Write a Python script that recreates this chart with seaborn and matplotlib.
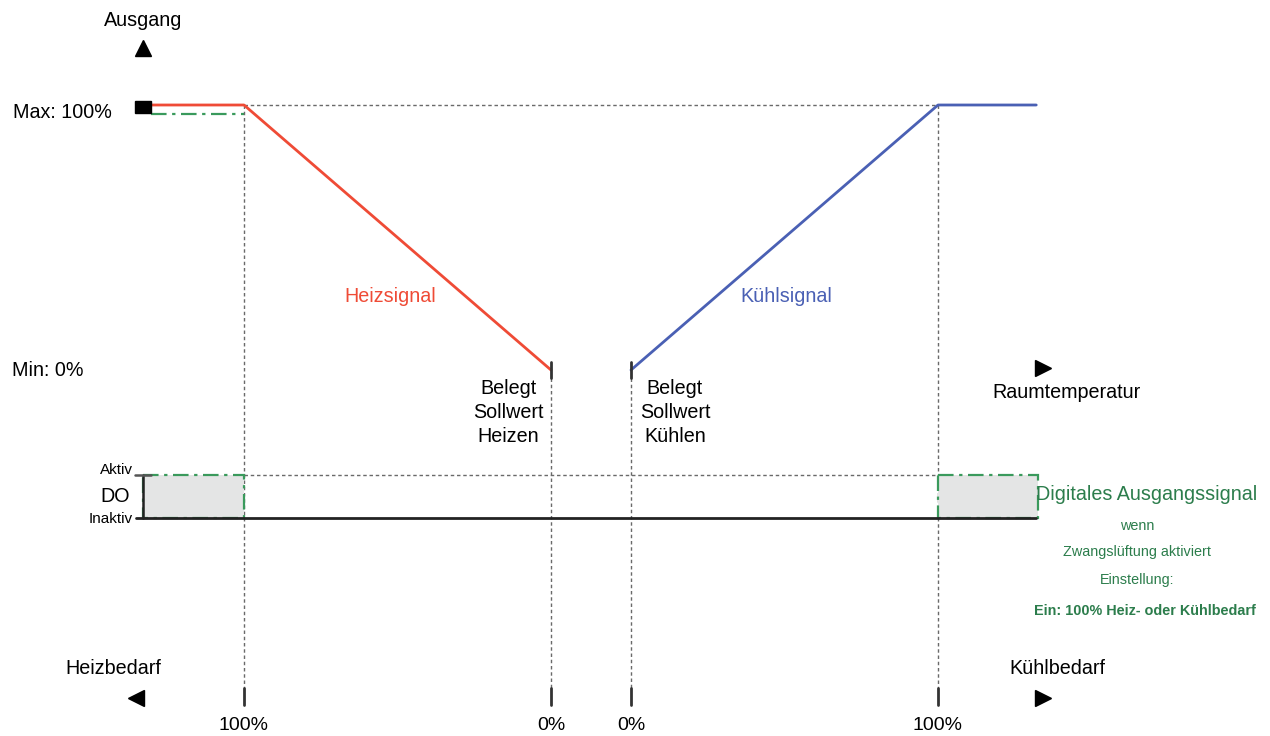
import numpy as np
import pandas as pd
import seaborn as sns
import matplotlib.pyplot as plt
from matplotlib.patches import Rectangle

# ===============================
# DATA (demand % -> output %)
# ===============================
heiz_bedarf  = [130, 100, 0]     # heating demand (%), 130 = saturated lead-in
heiz_ausgang = [100, 100, 0]     # heating output (%)
kuehl_bedarf  = [0, 100, 132]    # cooling demand (%)
kuehl_ausgang = [0, 100, 100]    # cooling output (%)

bedarf_ticks = ["100%", "0%", "0%", "100%"]
belegt_heizen = ["Belegt", "Sollwert", "Heizen"]
belegt_kuehlen = ["Belegt", "Sollwert", "Kühlen"]
do_text = ["wenn", "Zwangslüftung aktiviert", "Einstellung:"]

# ===============================
# LAYOUT (pixel canvas)
# ===============================
X_HEAT0, X_COOL0 = 551, 631
PX_PER_PCT = 3.07
Y_MIN, Y_MAX = 370, 105
Y_AKTIV, Y_INAKTIV = 475, 518
Y_TICK = (688, 705)

RED = "#EF4B36"
BLUE = "#4A60B4"
GREEN = "#2C7D4C"
GREEN_LINE = "#3A9A5C"
GRID = "#6a6a6a"


def x_heat(d):
    return X_HEAT0 - np.asarray(d, dtype=float) * PX_PER_PCT


def x_cool(d):
    return X_COOL0 + np.asarray(d, dtype=float) * PX_PER_PCT


def y_out(o):
    return Y_MIN - np.asarray(o, dtype=float) / 100 * (Y_MIN - Y_MAX)


heat_df = pd.DataFrame({"x": x_heat(heiz_bedarf), "y": y_out(heiz_ausgang)})
cool_df = pd.DataFrame({"x": x_cool(kuehl_bedarf), "y": y_out(kuehl_ausgang)})

x_h100, x_h0 = x_heat(100), x_heat(0)
x_c0, x_c100 = x_cool(0), x_cool(100)
x_left, x_right = heat_df["x"].iloc[0], cool_df["x"].iloc[-1]

sns.set_theme(style="white")
plt.rcParams["font.family"] = ["Liberation Sans", "DejaVu Sans"]
plt.rcParams["text.color"] = "black"

fig = plt.figure(figsize=(12.7, 7.36), dpi=100)
ax = fig.add_axes([0, 0, 1, 1])

dot = dict(color=GRID, lw=1, ls=(0, (2.5, 2)))

# dotted guide lines
ax.plot([x_h100, x_c100], [Y_MAX, Y_MAX], **dot)
ax.plot([x_h100, x_c100], [Y_AKTIV, Y_AKTIV], **dot)
ax.plot([x_h100, x_h100], [Y_MAX, Y_TICK[0]], **dot)
ax.plot([x_c100, x_c100], [Y_MAX, Y_TICK[0]], **dot)
ax.plot([x_h0, x_h0], [Y_MIN + 8, Y_TICK[0]], **dot)
ax.plot([x_c0, x_c0], [Y_MIN + 8, Y_TICK[0]], **dot)

# DO boxes
for x0, x1 in [(143, x_h100), (x_c100, x_right + 2)]:
    ax.add_patch(Rectangle((x0, Y_AKTIV), x1 - x0, Y_INAKTIV - Y_AKTIV,
                           facecolor="#E4E5E5", edgecolor=GREEN_LINE,
                           lw=1.6, ls=(0, (7, 2.5, 1.5, 2.5)), zorder=2))
ax.plot([x_left - 16, x_right], [Y_INAKTIV, Y_INAKTIV], color="#222222", lw=2, zorder=3)
ax.plot([143, 143], [Y_AKTIV, Y_INAKTIV], color="#222222", lw=1.8, zorder=3)
ax.plot([135, 151], [Y_AKTIV, Y_AKTIV], color="#555555", lw=1.8, zorder=3)

# signals
ax.add_patch(Rectangle((135, 101), 16, 12, color="black", zorder=4))
ax.plot([151, x_h100], [114, 114], color=GREEN_LINE, lw=1.6, ls=(0, (7, 2.5, 1.5, 2.5)))
sns.lineplot(data=heat_df, x="x", y="y", sort=False, ax=ax, color=RED, lw=2)
sns.lineplot(data=cool_df, x="x", y="y", sort=False, ax=ax, color=BLUE, lw=2)
ax.set_xlim(0, 1270)
ax.set_ylim(736, 0)
ax.axis("off")

# ticks
for xt in [x_h0, x_c0]:
    ax.plot([xt, xt], [Y_MIN - 8, Y_MIN + 8], color="#333333", lw=2)
for xt, lab in zip([x_h100, x_h0, x_c0, x_c100], bedarf_ticks):
    ax.plot([xt, xt], Y_TICK, color="#333333", lw=2)
    ax.text(xt, 725, lab, ha="center", va="center", fontsize=14)

# arrows
ax.plot(143, 48, marker="^", ms=12, color="black", ls="none")
ax.plot(1043, 368, marker=">", ms=12, color="black", ls="none")
ax.plot(136, 698, marker="<", ms=12, color="black", ls="none")
ax.plot(1043, 698, marker=">", ms=12, color="black", ls="none")

# labels
fs = 14.2
ax.text(143, 20, "Ausgang", ha="center", va="center", fontsize=fs)
ax.text(62, 113, "Max: 100%", ha="center", va="center", fontsize=fs)
ax.text(48, 371, "Min: 0%", ha="center", va="center", fontsize=fs)
ax.text(1067, 393, "Raumtemperatur", ha="center", va="center", fontsize=fs)
ax.text(113, 668, "Heizbedarf", ha="center", va="center", fontsize=fs)
ax.text(1057, 668, "Kühlbedarf", ha="center", va="center", fontsize=fs)
ax.text(390, 296, "Heizsignal", ha="center", va="center", fontsize=fs, color=RED)
ax.text(786, 296, "Kühlsignal", ha="center", va="center", fontsize=fs, color=BLUE)

for i, (a, b) in enumerate(zip(belegt_heizen, belegt_kuehlen)):
    ax.text(508, 389 + 24 * i, a, ha="center", va="center", fontsize=fs)
    ax.text(675, 389 + 24 * i, b, ha="center", va="center", fontsize=fs)

ax.text(133, 470, "Aktiv", ha="right", va="center", fontsize=11)
ax.text(115, 496, "DO", ha="center", va="center", fontsize=fs)
ax.text(133, 519, "Inaktiv", ha="right", va="center", fontsize=11)

ax.text(1147, 495, "Digitales Ausgangssignal", ha="center", va="center",
        fontsize=fs, color=GREEN)
for yy, t in zip([526, 552, 580], do_text):
    ax.text(1137, yy, t, ha="center", va="center", fontsize=10.4, color=GREEN)
ax.text(1145, 611, "Ein: 100% Heiz- oder Kühlbedarf", ha="center", va="center",
        fontsize=10.4, color=GREEN, fontweight="bold")

fig.savefig("out.png", dpi=100)
